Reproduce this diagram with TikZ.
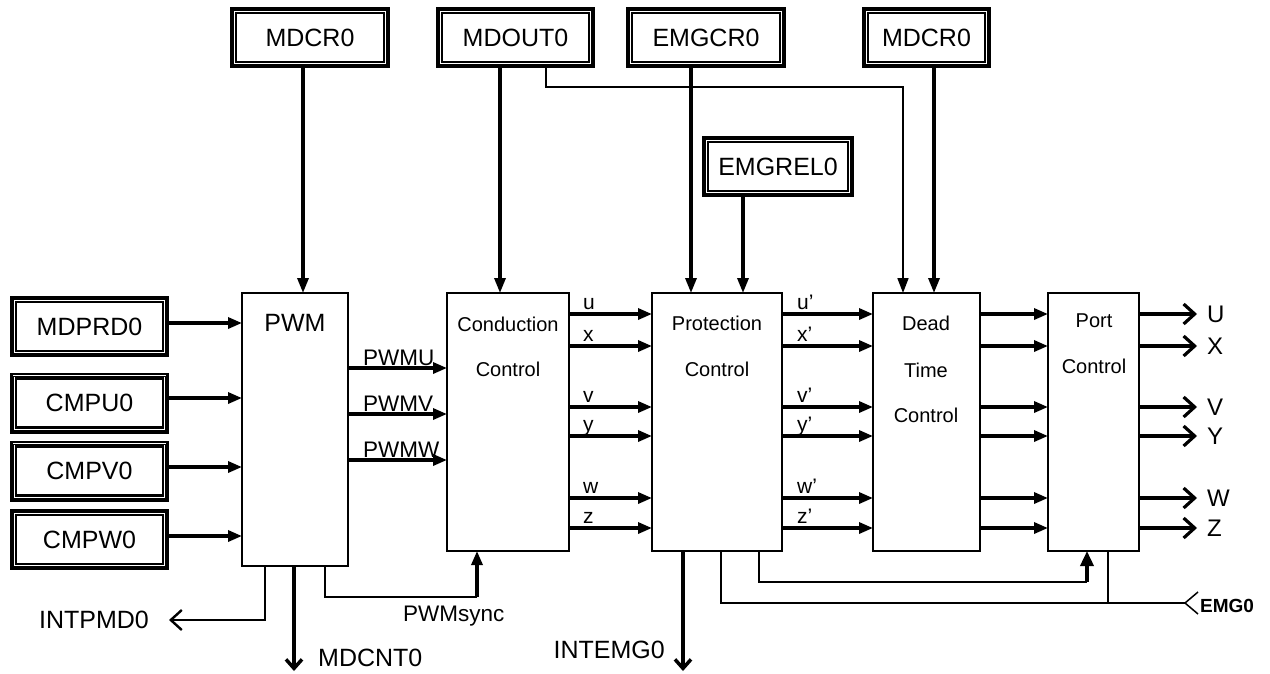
\documentclass[tikz,border=0pt]{standalone}
\usepackage{fontspec}
\setmainfont{Liberation Sans}
\usetikzlibrary{arrows.meta}
\newcommand\fsz[1]{\fontsize{#1}{#1}\selectfont}
\begin{document}
\begin{tikzpicture}[x=1pt,y=-1pt,
  regbox/.style={draw, line width=2.6pt, double=white, double distance=2.2pt,
    outer sep=0pt, inner sep=0pt, minimum height=53.6pt, font=\fsz{25}},
  block/.style={draw, line width=1.5pt, outer sep=0pt, inner sep=0pt},
  btxt/.style={font=\fsz{20}, inner sep=0pt},
  slbl/.style={font=\fsz{21}, inner sep=0pt, anchor=base west},
  olbl/.style={font=\fsz{24}, inner sep=0pt, anchor=west},
  biglbl/.style={font=\fsz{25}, inner sep=0pt},
  thinline/.style={line width=1.5pt},
  sig/.style={line width=3.2pt, -{Triangle[length=14pt,width=11pt]}},
  downarr/.style={line width=3.2pt, -{Triangle[length=15pt,width=11pt]}},
  outarr/.style={line width=3.2pt, -{Straight Barb[length=11pt,width=20pt,line width=3.2pt]}},
  bigbarb/.style={line width=4pt, -{Straight Barb[length=9pt,width=16pt,line width=3.5pt]}},
  smallbarb/.style={line width=1.5pt, -{Straight Barb[length=11pt,width=20pt,line width=2.4pt]}}]
\useasboundingbox (0,0) rectangle (1270,673);
\fill[white] (0,0) rectangle (1270,673);

% main blocks
\node[block, minimum width=106pt, minimum height=273pt] (pwm) at (295,429.5) {};
\node[block, minimum width=122pt, minimum height=258pt] (cond) at (508,422) {};
\node[block, minimum width=130pt, minimum height=258pt] (prot) at (717,422) {};
\node[block, minimum width=107pt, minimum height=258pt] (dead) at (926.5,422) {};
\node[block, minimum width=91pt, minimum height=258pt] (port) at (1093.5,422) {};

\node[btxt, font=\fsz{25}] (pwmT) at (295,323) {PWM};
\node[btxt] (condT1) at (508,324) {Conduction};
\node[btxt] (condT2) at (508,369) {Control};
\node[btxt] (protT1) at (717,323) {Protection};
\node[btxt] (protT2) at (717,369) {Control};
\node[btxt] (deadT1) at (926,323) {Dead};
\node[btxt] (deadT2) at (926,370) {Time};
\node[btxt] (deadT3) at (926,415) {Control};
\node[btxt] (portT1) at (1094,321) {Port};
\node[btxt] (portT2) at (1094,366) {Control};

% registers
\node[regbox, minimum width=152.6pt] (mdcr) at (310,37.5) {MDCR0};
\node[regbox, minimum width=151.6pt] (mdout) at (515.5,37.5) {MDOUT0};
\node[regbox, minimum width=152.6pt] (emgcr) at (706,37.5) {EMGCR0};
\node[regbox, minimum width=121.6pt] (mdcrb) at (926.5,37.5) {MDCR0};
\node[regbox, minimum width=144.6pt] (emgrel) at (778,166.5) {EMGREL0};
\node[regbox, minimum width=151.6pt] (mdprd) at (89.5,326.5) {MDPRD0};
\node[regbox, minimum width=151.6pt] (cmpu) at (89.5,403) {CMPU0};
\node[regbox, minimum width=151.6pt] (cmpv) at (89.5,471) {CMPV0};
\node[regbox, minimum width=151.6pt] (cmpw) at (89.5,539.5) {CMPW0};
\foreach \n in {mdcr,mdout,emgcr,mdcrb,emgrel,mdprd,cmpu,cmpv,cmpw}
  \draw[line width=0.6pt] (\n.south west) rectangle (\n.north east);

% register arrows (top)
\draw[downarr] (mdcr.south -| 303,0) -- (pwm.north -| 303,0);
\draw[downarr] (mdout.south -| 500,0) -- (cond.north -| 500,0);
\draw[downarr] (emgcr.south -| 691,0) -- (prot.north -| 691,0);
\draw[downarr] (emgrel.south -| 743,0) -- (prot.north -| 743,0);
\draw[downarr] (mdcrb.south -| 934,0) -- (dead.north -| 934,0);
\coordinate (mo1) at (903,87);
\draw[line width=1.7pt, -{Triangle[length=15pt,width=11pt]}] (mdout.south -| 546,0) |- (mo1) -- (dead.north -| mo1);

% register arrows (left)
\draw[sig] (mdprd.east |- 0,323) -- (pwm.west |- 0,323);
\draw[sig] (cmpu.east |- 0,398) -- (pwm.west |- 0,398);
\draw[sig] (cmpv.east |- 0,467) -- (pwm.west |- 0,467);
\draw[sig] (cmpw.east |- 0,536) -- (pwm.west |- 0,536);

% PWM outputs
\draw[sig] (pwm.east |- 0,368) -- (cond.west |- 0,368);
\draw[sig] (pwm.east |- 0,414) -- (cond.west |- 0,414);
\draw[sig] (pwm.east |- 0,460) -- (cond.west |- 0,460);
\node[slbl, font=\fsz{22.5}] (lpu) at (363,365) {PWMU};
\node[slbl, font=\fsz{22.5}] (lpv) at (363,411) {PWMV};
\node[slbl, font=\fsz{22.5}] (lpw) at (363,457) {PWMW};

% signal rows
\foreach \y/\a/\b in {314/u/U,346/x/X,407/v/V,436/y/Y,498/w/W,528/z/Z}{
  \draw[sig] (cond.east |- 0,\y) -- (prot.west |- 0,\y);
  \draw[sig] (prot.east |- 0,\y) -- (dead.west |- 0,\y);
  \draw[sig] (dead.east |- 0,\y) -- (port.west |- 0,\y);
  \node[slbl] (c\a) at (583,\y-4.5) {\a};
  \node[slbl] (p\a) at (797,\y-4.5) {\a’};
  \node[olbl] (o\b) at (1207,\y) {\b};
  \draw[outarr] (port.east |- o\b) -- ([xshift=-10pt]o\b.west);
}

% bottom: INTPMD0
\node[biglbl, anchor=east] (intpmd) at (149,620) {INTPMD0};
\coordinate (ip1) at (265,620);
\draw[smallbarb] (pwm.south -| ip1) -- (ip1) -- ([xshift=20pt]intpmd.east);

% MDCNT0
\node[biglbl, anchor=west] (mdcnt) at (318,658) {MDCNT0};
\coordinate (mc1) at (294,671);
\draw[bigbarb] (pwm.south -| mc1) -- (mc1);

% PWMsync
\coordinate (ps1) at (325,597);
\coordinate (ps2) at (477,597);
\draw[thinline] (pwm.south -| ps1) -- (ps1) -- (ps2);
\draw[sig] (ps2) -- (cond.south -| ps2);
\node[slbl, font=\fsz{22.5}] (pwmsync) at (403,621) {PWMsync};

% INTEMG0
\node[biglbl, anchor=east] (intemg) at (665,650) {INTEMG0};
\coordinate (ie1) at (683,671);
\draw[bigbarb] (prot.south -| ie1) -- (ie1);

% protection -> port
\coordinate (pp1) at (759,582);
\coordinate (pp2) at (1087,582);
\draw[thinline] (prot.south -| pp1) -- (pp1) -- (pp2);
\draw[line width=3.5pt, -{Triangle[length=15pt,width=13pt]}] (pp2) -- (port.south -| pp2);

% EMG0 input
\coordinate (em1) at (721,603);
\coordinate (emgin) at (1185,603);
\coordinate (em2) at (1108,603);
\draw[thinline] (prot.south -| em1) -- (em1) -- (emgin);
\draw[thinline] (port.south -| em2) -- (em2);
\draw[line width=1.5pt] ([shift={(13,-11)}]emgin) -- (emgin) -- ([shift={(13,11)}]emgin);
\node[font=\bfseries\fsz{19}, anchor=west, inner sep=0pt] (emg) at (1200,606) {EMG0};
\end{tikzpicture}
\end{document}
